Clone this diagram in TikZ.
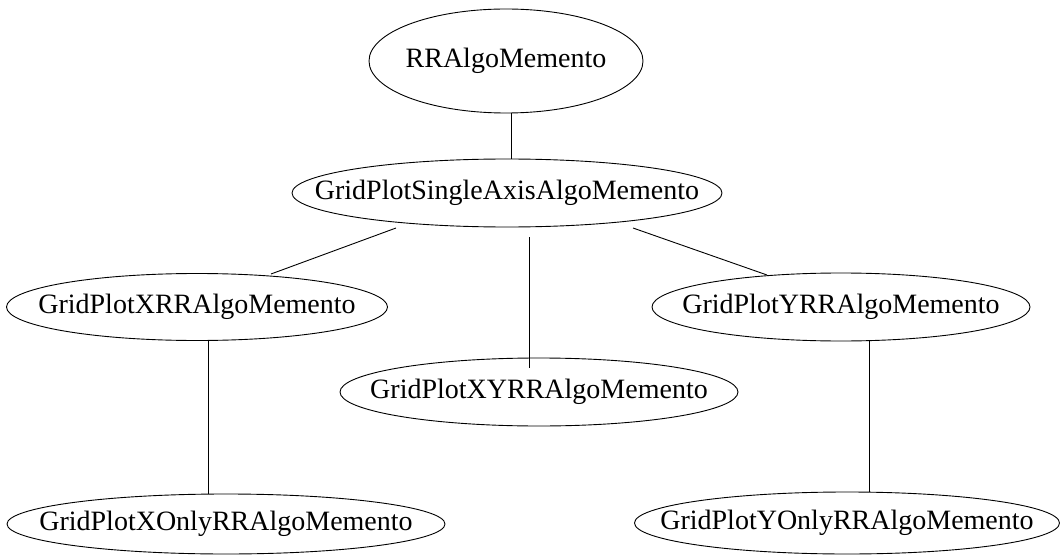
\documentclass[tikz,border=0pt]{standalone}
\usepackage{fontspec}
\setmainfont{Liberation Serif}
\usetikzlibrary{shapes.geometric}
\tikzset{
  memo/.style={ellipse, draw, line width=0.9pt, inner sep=0pt, font=\fontsize{28}{30}\selectfont},
  link/.style={draw, line width=0.9pt},
}
\newcommand{\lbl}[1]{\makebox[0pt]{\raisebox{-3pt}{#1}}}
\begin{document}
\begin{tikzpicture}[x=1pt,y=1pt]
\useasboundingbox (0,0) rectangle (1062,-556);
\fill[white] (0,0) rectangle (1062,-556);
\node[memo, minimum width=274, minimum height=104] (rr) at (506,-61) {\lbl{RRAlgoMemento}};
\node[memo, minimum width=430, minimum height=68] (gps) at (507,-193) {\lbl{GridPlotSingleAxisAlgoMemento}};
\node[memo, minimum width=381, minimum height=67] (gxrr) at (197,-307) {\lbl{GridPlotXRRAlgoMemento}};
\node[memo, minimum width=378, minimum height=68] (gyrr) at (841,-307) {\lbl{GridPlotYRRAlgoMemento}};
\node[memo, minimum width=398, minimum height=68] (gxyrr) at (539,-392) {\lbl{GridPlotXYRRAlgoMemento}};
\node[memo, minimum width=438, minimum height=60] (gxonly) at (226,-524) {\lbl{GridPlotXOnlyRRAlgoMemento}};
\node[memo, minimum width=425, minimum height=62] (gyonly) at (847,-523) {\lbl{GridPlotYOnlyRRAlgoMemento}};
% connectors
\draw[link] ([xshift=5]rr.south) -- ([xshift=5]rr.south |- gps.north);
\draw[link] ([shift={(-111,-35)}]gps.center) -- ([shift={(74,33)}]gxrr.center);
\draw[link] ([shift={(126,-35)}]gps.center) -- ([shift={(-74,32)}]gyrr.center);
\draw[link] ([xshift=22,yshift=-10]gps.south) -- ([xshift=22,yshift=-10]gps.south |- gxyrr.north);
\draw[link] ([xshift=11]gxrr.south) -- ([xshift=11]gxrr.south |- gxonly.north);
\draw[link] ([xshift=28]gyrr.south) -- ([xshift=28]gyrr.south |- gyonly.north);
\end{tikzpicture}
\end{document}
